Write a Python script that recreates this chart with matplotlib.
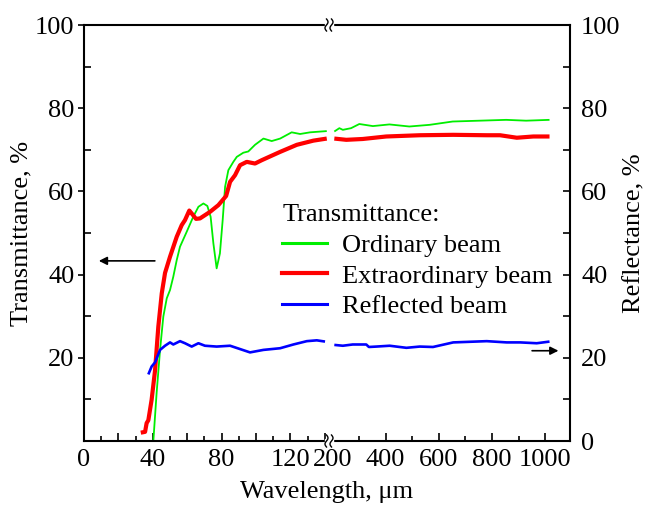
import numpy as np
import matplotlib
matplotlib.use("Agg")
import matplotlib.pyplot as plt
from matplotlib.lines import Line2D
from matplotlib.ticker import FixedLocator, MultipleLocator, FuncFormatter

plt.rcParams['font.family'] = ['Liberation Serif', 'DejaVu Serif']
plt.rcParams['font.size'] = 19

# ---- data (wavelength in um, values in %) ----
# short-wavelength part (0..~142 um)
ord_x1 = [40.3, 42.2, 44.2, 46.1, 48.1, 50.0, 51.9, 53.9, 55.8, 59.7, 63.5, 66.5, 69.4,
          71.7, 73.6, 75.2, 77.1, 79.0, 80.6, 82.0, 83.9, 86.8, 88.8, 90.7, 92.6, 95.5,
          99.4, 104.3, 109.1, 114.0, 120.7, 125.6, 131.4, 141.1]
ord_y1 = [0.0, 11.5, 21.9, 29.9, 34.3, 36.3, 39.5, 43.5, 46.7, 50.3, 53.9, 56.3, 57.1,
          56.5, 53.9, 47.5, 41.5, 45.1, 53.1, 61.1, 65.1, 67.1, 68.3, 68.8, 69.3, 69.6,
          71.2, 72.7, 72.1, 72.7, 74.2, 73.8, 74.2, 74.5]

ext_x1 = [33.0, 35.5, 36.4, 37.4, 39.3, 41.3, 43.2, 45.2, 47.1, 50.0, 53.9, 56.8, 58.7,
          61.2, 62.6, 65.1, 67.4, 73.3, 78.1, 82.6, 84.9, 87.8, 90.7, 94.6, 99.4, 103.3,
          114.0, 123.7, 133.3, 141.1]
ext_y1 = [2.0, 2.2, 4.3, 5.0, 9.9, 17.0, 27.5, 35.5, 40.4, 44.3, 49.1, 51.9, 53.1,
          55.4, 54.7, 53.4, 53.5, 55.1, 56.7, 58.9, 62.3, 63.9, 66.3, 67.1, 66.7, 67.5,
          69.5, 71.2, 72.2, 72.7]

ref_x1 = [37.4, 39.3, 41.3, 44.2, 47.1, 50.0, 51.9, 55.8, 58.7, 62.6, 66.5, 70.3, 77.1,
          84.9, 90.7, 96.5, 104.3, 114.0, 121.7, 129.5, 135.3, 140.1]
ref_y1 = [16.0, 17.9, 18.9, 21.9, 22.9, 23.7, 23.2, 24.0, 23.5, 22.7, 23.5, 22.9, 22.7,
          22.9, 22.1, 21.3, 21.9, 22.3, 23.2, 24.0, 24.2, 23.9]

# long-wavelength part (200..1020 um)
ord_x2 = [207, 226, 239, 270, 301, 352, 414, 489, 565, 652, 753, 853, 928, 1016]
ord_y2 = [74.4, 75.2, 74.8, 75.2, 76.2, 75.7, 76.1, 75.6, 76.0, 76.8, 77.0, 77.2, 77.0, 77.2]

ext_x2 = [207, 252, 314, 402, 528, 654, 780, 830, 893, 955, 1016]
ext_y2 = [72.7, 72.4, 72.6, 73.2, 73.5, 73.6, 73.5, 73.5, 72.9, 73.2, 73.2]

ref_x2 = [207, 239, 276, 327, 337, 365, 415, 478, 528, 578, 654, 780, 855, 906, 968, 1016]
ref_y2 = [23.1, 22.9, 23.2, 23.2, 22.6, 22.7, 22.9, 22.4, 22.7, 22.6, 23.7, 24.0, 23.7,
          23.7, 23.5, 23.9]

labels = ['Ordinary beam', 'Extraordinary beam', 'Reflected beam']
colors = ['#00ee00', '#ff0000', '#0000ff']
widths = [1.3, 3.0, 1.9]

W, H = 649, 505
fig = plt.figure(figsize=(W / 100, H / 100), dpi=100)
xb = 329  # break position, px
L, R, B, T = 84, 570, 441, 25
ax1 = fig.add_axes([L / W, 1 - B / H, (xb - L) / W, (B - T) / H])
ax2 = fig.add_axes([xb / W, 1 - B / H, (R - xb) / W, (B - T) / H])

for ax, xs, ys in [(ax1, (ord_x1, ext_x1, ref_x1), (ord_y1, ext_y1, ref_y1)),
                   (ax2, (ord_x2, ext_x2, ref_x2), (ord_y2, ext_y2, ref_y2))]:
    for x, y, c, lw in zip(xs, ys, colors, widths):
        ax.plot(x, y, color=c, lw=lw, solid_capstyle='butt')
    ax.set_ylim(0, 100)
    for s in ax.spines.values():
        s.set_linewidth(1.5)

ax1.set_xlim(0, 142.4)
ax2.set_xlim(187, 1093)

ax1.spines['right'].set_visible(False)
ax2.spines['left'].set_visible(False)

# x ticks
ax1.xaxis.set_major_locator(FixedLocator(range(0, 141, 20)))
ax1.xaxis.set_minor_locator(FixedLocator(range(10, 141, 20)))
ax1.xaxis.set_major_formatter(FuncFormatter(lambda v, p: f"{int(v)}" if int(v) % 40 == 0 else ""))
ax2.xaxis.set_major_locator(FixedLocator(range(200, 1001, 200)))
ax2.xaxis.set_minor_locator(FixedLocator(range(300, 1001, 200)))
for ax in (ax1, ax2):
    ax.tick_params(axis='x', which='major', direction='in', length=6, width=1.2, pad=6)
    ax.tick_params(axis='x', which='minor', direction='in', length=3.5, width=1.2)
ax2.xaxis.get_major_ticks()[0].tick1line.set_visible(False)

# y ticks
ax1.yaxis.set_major_locator(FixedLocator(range(20, 101, 20)))
ax1.yaxis.set_minor_locator(MultipleLocator(10))
ax1.tick_params(axis='y', which='major', direction='out', length=4, width=1.2, pad=3)
ax1.tick_params(axis='y', which='minor', direction='in', length=5, width=1.2)
ax2.yaxis.tick_right()
ax2.yaxis.set_major_locator(FixedLocator(range(0, 101, 20)))
ax2.yaxis.set_minor_locator(MultipleLocator(10))
ax2.tick_params(axis='y', which='major', direction='in', length=5, width=1.2, pad=8)
ax2.tick_params(axis='y', which='minor', direction='in', length=5, width=1.2)
ax2.yaxis.set_label_position('right')

ax1.set_ylabel('Transmittance, %', labelpad=2)
ax2.set_ylabel('Reflectance, %', labelpad=2)
fig.text((L + R) / 2 / W, 1 - 492 / H, 'Wavelength, \u03bcm', ha='center', va='center')

# arrows to the matching axes
ax1.annotate('', xy=(7, 43.3), xytext=(42.8, 43.3),
             arrowprops=dict(arrowstyle='-|>', color='black', lw=1.2, mutation_scale=12))
ax2.annotate('', xy=(1060, 21.7), xytext=(940, 21.7),
             arrowprops=dict(arrowstyle='-|>', color='black', lw=1.2, mutation_scale=12))

# break marks on top and bottom spines
for yp in (T, B):
    yf = 1 - yp / H
    fig.patches.append(plt.Rectangle(((xb - 4) / W, yf - 2 / H), 8 / W, 4 / H,
                                     transform=fig.transFigure, color='white', zorder=5))
    t = np.linspace(-1, 1, 30)
    for dx in (-2.5, 2.5):
        xs = (xb + dx + 1.5 * np.sin(np.pi * t)) / W
        ys = yf + t * 6 / H
        fig.add_artist(Line2D(xs, ys, color='black', lw=1.0, transform=fig.transFigure, zorder=6))

handles = [Line2D([], [], color=c, lw=w) for c, w in zip(colors, [2.2, 3.0, 2.2])]
leg = fig.legend(handles, labels, title='Transmittance:', loc='upper left',
                 bbox_to_anchor=(264 / W, 1 - 186 / H), frameon=False, borderpad=0.2,
                 handlelength=1.67, handletextpad=0.6, labelspacing=0.27,
                 alignment='left', fontsize=19, title_fontsize=19)

fig.savefig('out.png', dpi=100)
